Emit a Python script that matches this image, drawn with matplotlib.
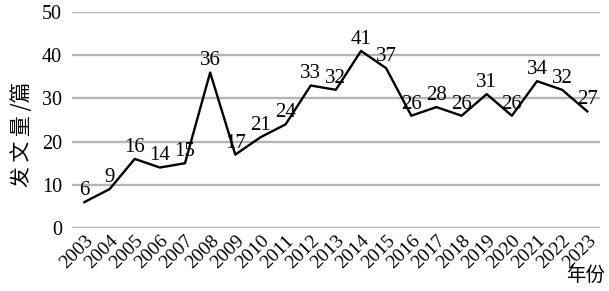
import matplotlib.pyplot as plt

years = [str(y) for y in range(2003, 2024)]
counts = [6, 9, 16, 14, 15, 36, 17, 21, 24, 33, 32, 41, 37, 26, 28, 26, 31, 26, 34, 32, 27]
yticks = [0, 10, 20, 30, 40, 50]

SERIF = ["Liberation Serif", "DejaVu Serif"]
CJK = ["Noto Sans CJK SC", "DejaVu Sans"]

fig = plt.figure(figsize=(6.09, 2.91), dpi=100)
ax = fig.add_axes([0.118, 0.2165, 0.867, 0.742])

x = list(range(len(years)))
ax.plot(x, counts, color="black", lw=1.7, zorder=3)
for xi, v in zip(x, counts):
    ax.annotate(str(v), (xi, v), xytext=(0, 1.5), textcoords="offset points",
                ha="center", va="bottom", fontsize=15, family=SERIF, zorder=4)

ax.set_xlim(-0.5, len(years) - 0.5)
ax.set_ylim(0, 50)
ax.set_yticks(yticks)
ax.set_yticklabels([str(t) for t in yticks], family=SERIF, fontsize=14.5)
ax.set_xticks(x)
ax.set_xticklabels(years, family=SERIF, fontsize=14, rotation=45,
                   ha="right", rotation_mode="anchor")
ax.tick_params(axis="y", length=0, pad=7)
ax.tick_params(axis="x", length=0, pad=3)
ax.grid(axis="y", color="#b4b4b4", lw=1.7)
ax.set_axisbelow(True)
for s in ax.spines.values():
    s.set_visible(False)

fig.text(0.036, 0.54, "发 文 量 /篇", rotation=90, ha="center", va="center",
         fontsize=15, family=CJK)
fig.text(0.962, 0.055, "年份", ha="center", va="center", fontsize=14, family=CJK)

fig.savefig("out.png", dpi=100)
